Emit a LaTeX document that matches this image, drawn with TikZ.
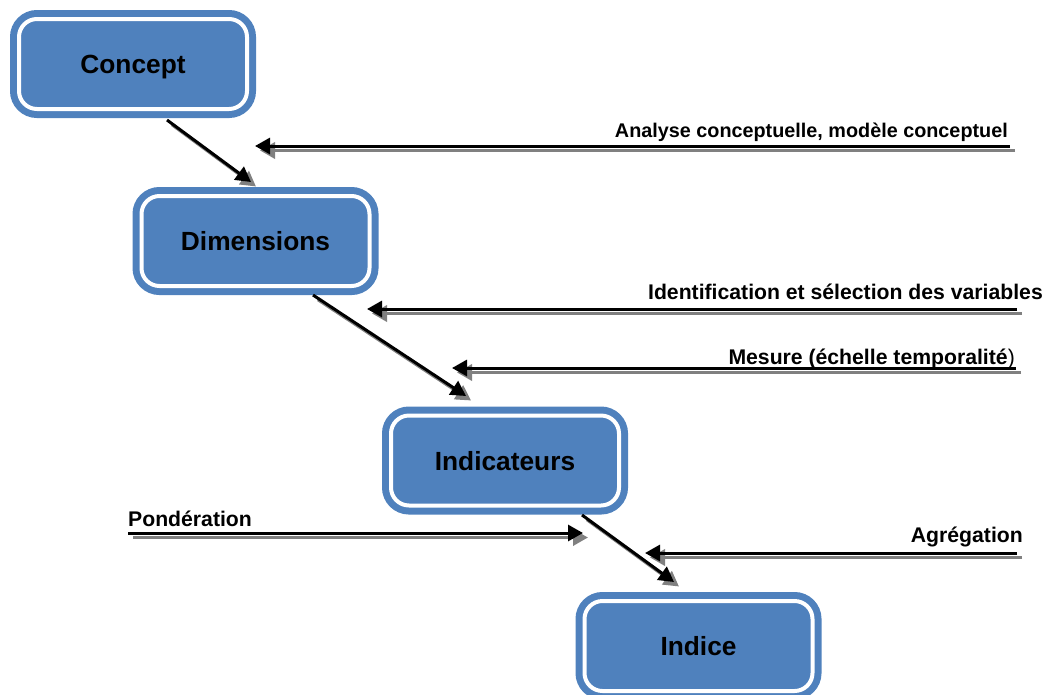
\documentclass[tikz,border=0pt]{standalone}
\usepackage{fontspec}
\setmainfont{Liberation Sans}
\usetikzlibrary{arrows.meta}
\definecolor{boxblue}{RGB}{79,129,189}
\definecolor{shadowgray}{RGB}{128,128,128}
\tikzset{
  stage/.style={draw=boxblue, fill=boxblue, double=white, double distance=4pt,
    line width=7pt, rounded corners=18pt, minimum width=228pt, minimum height=90pt,
    inner sep=0pt, text depth=0pt, font=\fontsize{26.3}{30}\selectfont\bfseries},
  flow/.style={line width=3pt, -{Triangle[length=15pt,width=16pt]},
    preaction={draw=shadowgray, line width=3.5pt, transform canvas={shift={(5pt,-4.5pt)}}}},
  lbl/.style={inner sep=0pt, font=\fontsize{21.2}{24}\selectfont\bfseries}
}

\begin{document}
\begin{tikzpicture}[x=1pt, y=-1pt]
      \useasboundingbox (0,0) rectangle (1054,694);
      \node[stage] (concept) at (133,64) {Concept};
      \node[stage] (dims) at (255.5,241) {Dimensions};
      \node[stage] (indic) at (505,460.5) {Indicateurs};
      \node[stage] (indice) at (698.5,646) {Indice};
      \coordinate (d1s) at (167,120);
      \coordinate (d1e) at (251,182);
      \coordinate (d2s) at (313,295);
      \coordinate (d2e) at (466,396);
      \coordinate (d3s) at (582,515);
      \coordinate (d3e) at (674,582);
      \coordinate (h1s) at (1010,146);
      \coordinate (h1e) at (255,146);
      \coordinate (h2s) at (1017,309);
      \coordinate (h2e) at (367,309);
      \coordinate (h3s) at (1016,368);
      \coordinate (h3e) at (452,368);
      \coordinate (h4s) at (128,533);
      \coordinate (h4e) at (583,533);
      \coordinate (h5s) at (1017,553);
      \coordinate (h5e) at (645,553);
      \draw[flow] (d1s) -- (d1e);
      \draw[flow] (d2s) -- (d2e);
      \draw[flow] (d3s) -- (d3e);
      \draw[flow] (h1s) -- (h1e);
      \draw[flow] (h2s) -- (h2e);
      \draw[flow] (h3s) -- (h3e);
      \draw[flow] (h4s) -- (h4e);
      \draw[flow] (h5s) -- (h5e);
      \node[lbl, anchor=base east, font=\fontsize{19.8}{24}\selectfont\bfseries] (analyse) at (1008,137) {Analyse conceptuelle, modèle conceptuel};
      \node[lbl, anchor=base east] (ident) at (1043,299) {Identification et sélection des variables};
      \node[lbl, anchor=base east] (mesure) at (1015,364) {Mesure (échelle temporalité{\mdseries )}};
      \node[lbl, anchor=base west] (ponder) at (128,526) {Pondération};
      \node[lbl, anchor=base east] (agreg) at (1023,542) {Agrégation};
\end{tikzpicture}
\end{document}
